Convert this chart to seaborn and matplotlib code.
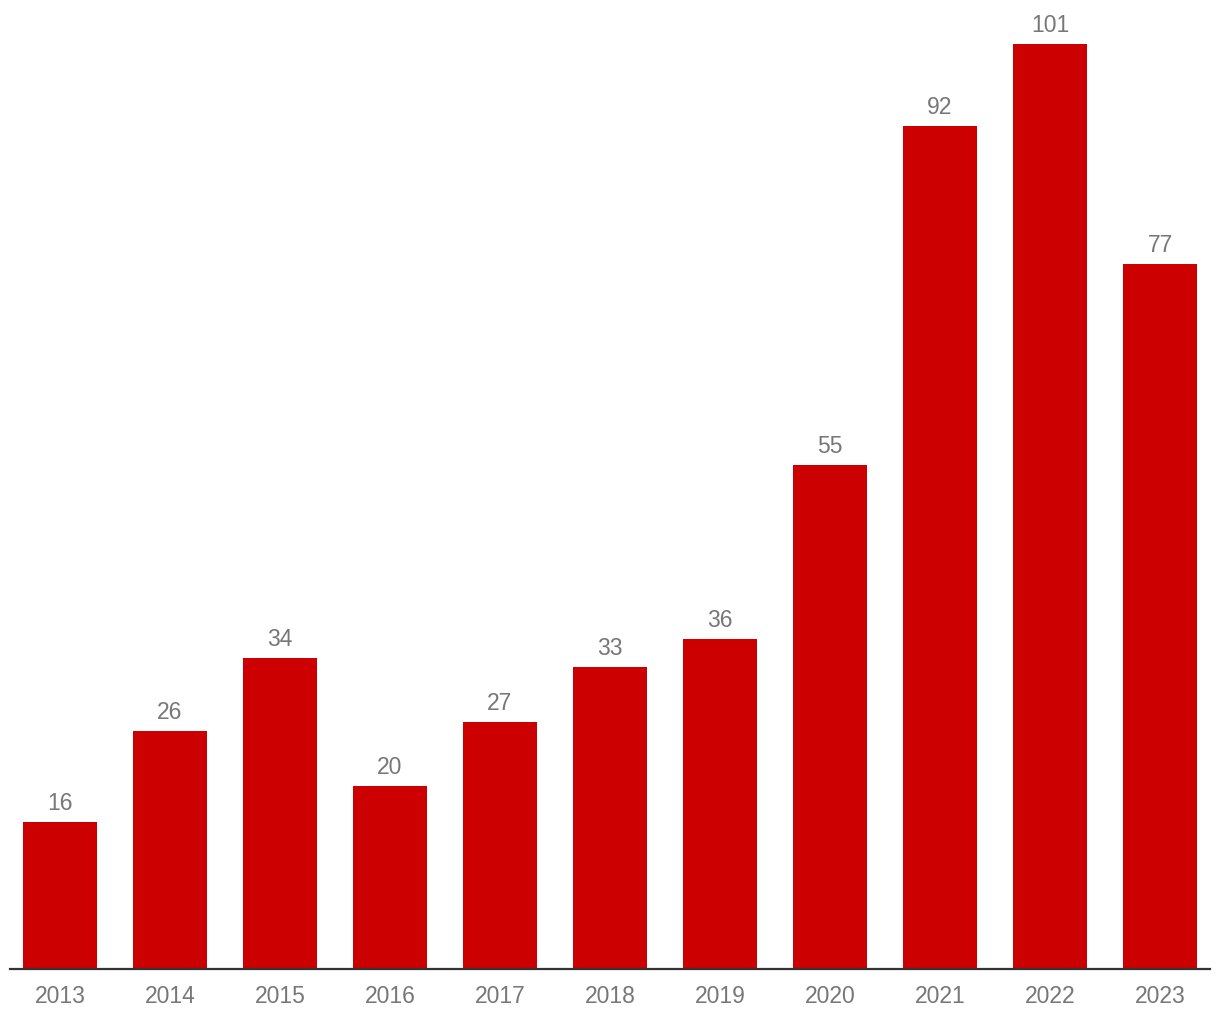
import matplotlib
matplotlib.use("Agg")
import matplotlib.pyplot as plt
import seaborn as sns
import pandas as pd

years = ["2013", "2014", "2015", "2016", "2017", "2018", "2019", "2020", "2021", "2022", "2023"]
counts = [16, 26, 34, 20, 27, 33, 36, 55, 92, 101, 77]

df = pd.DataFrame({"year": years, "count": counts})

sns.set_style("white")
plt.rcParams["font.family"] = ["Liberation Sans", "DejaVu Sans"]

fig = plt.figure(figsize=(12.2, 10.2), dpi=100)
ax = fig.add_axes([10 / 1220, 50 / 1020, 1200 / 1220, 960 / 1020])

sns.barplot(data=df, x="year", y="count", color="#cc0000", width=0.673,
            saturation=1, linewidth=0, ax=ax)

for bar, v in zip(ax.patches, counts):
    ax.annotate(str(v), (bar.get_x() + bar.get_width() / 2, bar.get_height()),
                xytext=(0, 8), textcoords="offset pixels",
                ha="center", va="bottom", fontsize=16.5, color="#777777")

ax.set_xlim(-0.4545, 10.4545)
ax.set_ylim(0, 104.8)
ax.set_xlabel("")
ax.set_ylabel("")
ax.set_yticks([])
for s in ["top", "right", "left"]:
    ax.spines[s].set_visible(False)
ax.spines["bottom"].set_color("#333333")
ax.spines["bottom"].set_linewidth(1.6)
ax.tick_params(axis="x", length=0, pad=11, labelsize=16.5, labelcolor="#777777")

fig.savefig("out.png", dpi=100)
